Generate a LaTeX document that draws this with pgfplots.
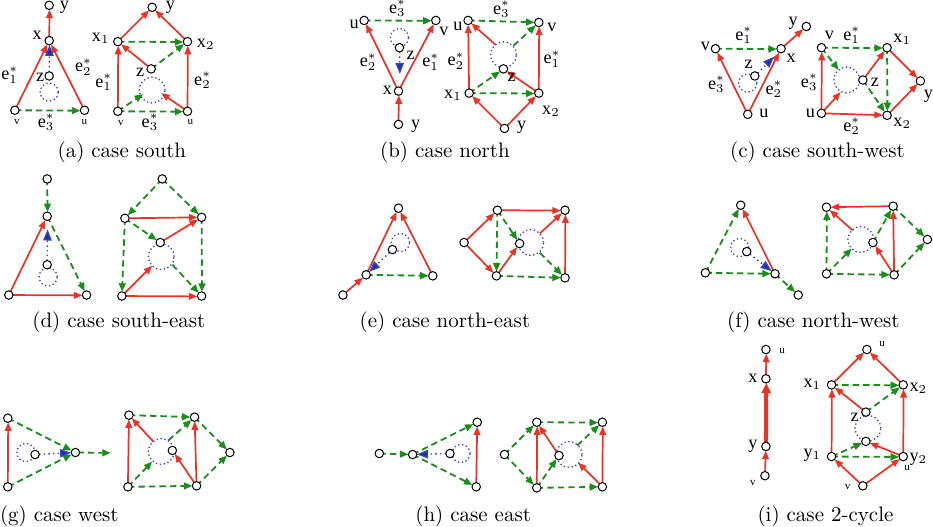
\documentclass[border=0pt]{standalone}
\usepackage{fontspec}
\usepackage{pgfplots}
\pgfplotsset{compat=1.18}
\usetikzlibrary{arrows.meta}
\newfontfamily\tms{Liberation Serif}
\definecolor{myred}{RGB}{232,52,38}
\definecolor{mygreen}{RGB}{28,140,28}
\definecolor{myblue}{RGB}{50,70,190}
\definecolor{mydblue}{RGB}{35,45,160}
\pgfplotsset{
 re/.style={draw=myred, line width=0.85pt, -{Triangle[length=4.2pt,width=3.3pt]}, shorten >=2.1pt, mark=none},
 reh/.style={re, shorten >=0pt},
 ge/.style={draw=mygreen, line width=0.9pt, dash pattern=on 3.2pt off 2pt, -{Triangle[length=4.2pt,width=3.4pt]}, shorten >=2.1pt, mark=none},
 geh/.style={ge, shorten >=0pt},
 be/.style={draw=myblue, line width=0.7pt, dash pattern=on 0.7pt off 1.6pt, -{Triangle[length=5.5pt,width=4.2pt,fill=mydblue]}, shorten >=2.1pt, shorten <=2pt, mark=none},
 beh/.style={be, shorten >=0pt},
}
\tikzset{mylb/.style={font=\tms\fontsize{9}{10}\selectfont, inner sep=0pt},
 mytl/.style={font=\tms\fontsize{5.5}{6}\selectfont, inner sep=0pt},
 mycap/.style={font=\fontsize{10.4}{12}\selectfont, inner sep=0pt}}
\newcommand{\E}[5]{\addplot[#1] coordinates {(#2,#3) (#4,#5)};}
\newcommand{\es}[1]{e${}^{*}_{#1}$}
\newcommand{\xs}[2]{#1${}_{#2}$}
\begin{document}
\begin{tikzpicture}
\begin{axis}[scale only axis, width=466.5pt, height=266.5pt, xmin=-0.5, xmax=932.5, ymin=-0.5, ymax=532.5, y dir=reverse, hide axis, clip=false]
% ---------- (a)
\E{re}{18}{115}{52}{46}
\E{re}{87}{115}{52}{46}
\E{re}{52}{46}{52.4}{11}
\E{ge}{18}{115}{87}{115.4}
\E{be}{52}{81}{52.4}{46}
\E{re}{120}{47}{154}{13}
\E{re}{189}{47}{154}{13}
\E{re}{120}{116}{120.4}{47}
\E{re}{189}{116}{189.4}{47}
\E{re}{153}{74}{120}{47}
\E{ge}{120}{47}{189}{47.4}
\E{ge}{120}{116}{189}{116.4}
\E{geh}{120}{116}{145}{99}
\E{reh}{189}{116}{163}{98}
\E{ge}{153}{74}{189}{47}
% ---------- (b)
\E{re}{398}{96}{364}{26}
\E{re}{398}{96}{435}{26}
\E{re}{398}{129}{398.4}{96}
\E{ge}{364}{26}{435}{26.4}
\E{beh}{399}{53}{399.4}{79}
\E{re}{468}{98}{467}{26}
\E{re}{537}{98}{537.4}{28}
\E{re}{503}{133}{468}{98}
\E{re}{503}{133}{537}{98}
\E{re}{537}{98}{502}{74}
\E{ge}{468}{98}{537}{98.4}
\E{ge}{467}{26}{537}{28}
\E{ge}{468}{98}{502}{74}
\E{ge}{512}{51}{537}{28}
\E{re}{494}{50}{467}{26}
% ---------- (c)
\E{re}{744}{119}{712}{54}
\E{re}{744}{119}{777}{54}
\E{re}{777}{54}{802}{32}
\E{ge}{712}{54}{777}{54.4}
\E{beh}{751}{81}{770}{62}
\E{re}{817}{118}{817.4}{53}
\E{re}{817}{118}{882}{120}
\E{reh}{817}{118}{836}{97}
\E{re}{858}{85}{882}{53}
\E{re}{882}{53}{915}{86}
\E{re}{882}{120}{915}{86}
\E{ge}{817}{53}{882}{53.4}
\E{ge}{882}{53}{882.4}{120}
\E{geh}{817}{53}{834}{75}
\E{ge}{858}{85}{882}{120}
% ---------- (d)
\E{re}{12}{298}{50}{220}
\E{re}{12}{298}{89}{298.4}
\E{ge}{50}{183}{50.4}{220}
\E{ge}{50}{220}{89}{298}
\E{beh}{50}{268}{50.4}{233}
\E{ge}{164}{183}{127}{222}
\E{ge}{164}{183}{203}{221}
\E{re}{127}{222}{203}{221}
\E{re}{162}{246}{203}{221}
\E{re}{124}{299}{203}{299.4}
\E{reh}{124}{299}{154}{269}
\E{ge}{127}{222}{124}{299}
\E{ge}{203}{221}{203.4}{299}
\E{ge}{127}{222}{162}{246}
\E{ge}{174}{268}{203}{299}
% ---------- (e)
\E{re}{366}{278}{398}{212}
\E{re}{432}{279}{398}{212}
\E{re}{343}{298}{366}{278}
\E{ge}{366}{278}{432}{279}
\E{be}{392}{253}{366}{278}
\E{re}{463}{246}{496}{214}
\E{re}{463}{246}{495}{279}
\E{re}{496}{214}{563}{214.4}
\E{re}{495}{279}{518}{247}
\E{re}{538}{237}{563}{214}
\E{re}{563}{281}{563.4}{214}
\E{ge}{496}{214}{495}{279}
\E{ge}{495}{279}{563}{281}
\E{ge}{496}{214}{518}{247}
\E{ge}{538}{256}{563}{281}
% ---------- (f)
\E{ge}{702}{276}{737}{209}
\E{re}{771}{277}{737}{209}
\E{ge}{702}{276}{771}{277}
\E{ge}{771}{277}{794}{298}
\E{be}{743}{255}{771}{277}
\E{re}{888}{210}{822}{211}
\E{re}{848}{234}{822}{211}
\E{re}{889}{278}{888}{210}
\E{re}{889}{278}{868}{246}
\E{ge}{822}{277}{822.4}{211}
\E{ge}{822}{277}{889}{278}
\E{geh}{822}{277}{847}{252}
\E{ge}{868}{246}{888}{210}
\E{ge}{888}{210}{922}{243}
\E{ge}{889}{278}{922}{243}
% ---------- (g)
\E{re}{11}{488}{11.4}{420}
\E{ge}{11}{420}{78}{454}
\E{ge}{11}{488}{78}{454}
\E{be}{38}{456}{78}{454}
\E{geh}{80}{454}{113}{454.4}
\E{re}{130}{488}{131}{417}
\E{re}{198}{487}{196}{419}
\E{re}{155}{443}{131}{417}
\E{re}{198}{487}{174}{452}
\E{ge}{131}{417}{196}{419}
\E{ge}{130}{488}{198}{487}
\E{ge}{196}{419}{231}{454}
\E{ge}{198}{487}{231}{454}
\E{geh}{130}{488}{154}{463}
\E{ge}{170}{442}{196}{419}
% ---------- (h)
\E{ge}{379}{455}{412}{456}
\E{ge}{412}{456}{476}{424}
\E{ge}{412}{456}{475}{488}
\E{re}{475}{488}{476}{424}
\E{be}{449}{455}{412}{456}
\E{ge}{503}{456}{535}{424}
\E{ge}{503}{456}{535}{489}
\E{re}{535}{489}{535.4}{424}
\E{re}{600}{488}{600.4}{424}
\E{re}{557}{457}{535}{424}
\E{reh}{600}{488}{576}{464}
\E{ge}{535}{424}{600}{424.4}
\E{ge}{535}{489}{600}{488}
\E{ge}{535}{489}{557}{457}
\E{ge}{575}{447}{600}{424}
% ---------- (i)
\E{re}{762}{381}{762.4}{352}
\addplot[draw=myred, line width=2pt, -{Triangle[length=5pt,width=4.5pt]}, shorten >=2.1pt, mark=none] coordinates {(762,448) (762.4,381)};
\E{re}{761}{477}{762}{448}
\E{re}{827}{387}{862}{352}
\E{re}{898}{387}{862}{352}
\E{re}{827}{458}{827.4}{387}
\E{re}{898}{458}{898.4}{387}
\E{re}{861}{414}{827}{387}
\E{re}{898}{458}{861}{443}
\E{ge}{827}{387}{898}{387.4}
\E{ge}{827}{458}{898}{458.4}
\E{ge}{861}{414}{898}{387}
\E{ge}{827}{458}{861}{443}
\E{re}{858}{487}{827}{458}
\E{re}{858}{487}{898}{458}
% ---------- dotted circles
\addplot[only marks, mark=o, mark size=4.5pt, mark options={draw=myblue, line width=0.65pt, dash pattern=on 0.65pt off 1.3pt}] coordinates {(52,97)(399,43)(744,88)(51,280)(400,246)(736,251)(29,454)(460,455)};
\addplot[only marks, mark=o, mark size=6.4pt, mark options={draw=myblue, line width=0.65pt, dash pattern=on 0.65pt off 1.3pt}] coordinates {(154,95)(502,60)(842,85)(163,260)(529,246)(856,243)(163,453)(567,456)(863,430)};
% ---------- nodes
\addplot[only marks, mark=*, mark size=2.1pt, mark options={fill=white, draw=black, line width=0.5pt}] coordinates {
(52,11)(52,46)(52,81)(18,115)(87,115)(154,13)(120,47)(189,47)(153,74)(120,116)(189,116)
(364,26)(435,26)(399,53)(398,96)(398,129)(467,26)(537,28)(502,74)(468,98)(537,98)(503,133)
(712,54)(777,54)(802,32)(751,81)(744,119)(817,53)(882,53)(858,85)(915,86)(817,118)(882,120)
(50,183)(50,220)(50,268)(12,298)(89,298)(164,183)(127,222)(203,221)(162,246)(124,299)(203,299)
(398,212)(392,253)(366,278)(432,279)(343,298)(463,246)(496,214)(563,214)(518,247)(495,279)(563,281)
(737,209)(743,255)(702,276)(771,277)(794,298)(822,211)(888,210)(922,243)(868,246)(822,277)(889,278)
(11,420)(11,488)(38,456)(78,454)(131,417)(196,419)(231,454)(174,452)(130,488)(198,487)
(379,455)(412,456)(449,455)(476,424)(475,488)(503,456)(535,424)(600,424)(557,457)(535,489)(600,488)
(762,352)(762,381)(762,448)(761,477)(862,352)(827,387)(898,387)(861,414)(861,443)(827,458)(898,458)(858,487)};
% ---------- labels (a)
\node[mylb] at (axis cs:67,13) {y};
\node[mylb] at (axis cs:40,41) {x};
\node[mylb] at (axis cs:43,82) {z};
\node[mytl] at (axis cs:20,127) {v};
\node[mytl] at (axis cs:87,127) {u};
\node[mylb] at (axis cs:13,80) {\es{1}};
\node[mylb] at (axis cs:86,72) {\es{2}};
\node[mylb] at (axis cs:49,127) {\es{3}};
\node[mylb] at (axis cs:172,13) {y};
\node[mylb] at (axis cs:103,44) {\xs{x}{1}};
\node[mylb] at (axis cs:207,50) {\xs{x}{2}};
\node[mylb] at (axis cs:142,77) {z};
\node[mytl] at (axis cs:123,128) {v};
\node[mytl] at (axis cs:192,127) {u};
\node[mylb] at (axis cs:106,87) {\es{1}};
\node[mylb] at (axis cs:204,85) {\es{2}};
\node[mylb] at (axis cs:152,127) {\es{3}};
% (b)
\node[mylb] at (axis cs:354,30) {u};
\node[mylb] at (axis cs:443,37) {v};
\node[mylb] at (axis cs:410,61) {z};
\node[mylb] at (axis cs:387,95) {x};
\node[mylb] at (axis cs:415,131) {y};
\node[mylb] at (axis cs:397,14) {\es{3}};
\node[mylb] at (axis cs:368,67) {\es{2}};
\node[mylb] at (axis cs:430,67) {\es{1}};
\node[mylb] at (axis cs:457,32) {u};
\node[mylb] at (axis cs:550,33) {v};
\node[mylb] at (axis cs:510,82) {z};
\node[mylb] at (axis cs:452,100) {\xs{x}{1}};
\node[mylb] at (axis cs:549,116) {\xs{x}{2}};
\node[mylb] at (axis cs:520,132) {y};
\node[mylb] at (axis cs:500,15) {\es{3}};
\node[mylb] at (axis cs:455,66) {\es{2}};
\node[mylb] at (axis cs:550,64) {\es{1}};
% (c)
\node[mylb] at (axis cs:702,52) {v};
\node[mylb] at (axis cs:787,64) {x};
\node[mylb] at (axis cs:789,29) {y};
\node[mylb] at (axis cs:745,69) {z};
\node[mylb] at (axis cs:760,118) {u};
\node[mylb] at (axis cs:740,41) {\es{1}};
\node[mylb] at (axis cs:713,89) {\es{3}};
\node[mylb] at (axis cs:770,94) {\es{2}};
\node[mylb] at (axis cs:825,41) {v};
\node[mylb] at (axis cs:897,45) {\xs{x}{1}};
\node[mylb] at (axis cs:870,87) {z};
\node[mylb] at (axis cs:923,101) {y};
\node[mylb] at (axis cs:806,118) {u};
\node[mylb] at (axis cs:897,128) {\xs{x}{2}};
\node[mylb] at (axis cs:847,41) {\es{1}};
\node[mylb] at (axis cs:805,87) {\es{3}};
\node[mylb] at (axis cs:847,131) {\es{2}};
% (i)
\node[mytl] at (axis cs:778,353) {u};
\node[mylb] at (axis cs:749,381) {x};
\node[mylb] at (axis cs:749,448) {y};
\node[mytl] at (axis cs:749,484) {v};
\node[mytl] at (axis cs:877,347) {u};
\node[mylb] at (axis cs:808,386) {\xs{x}{1}};
\node[mylb] at (axis cs:913,390) {\xs{x}{2}};
\node[mylb] at (axis cs:850,419) {z};
\node[mylb] at (axis cs:808,457) {\xs{y}{1}};
\node[mylb] at (axis cs:913,461) {\xs{y}{2}};
\node[mytl] at (axis cs:902,469) {u};
\node[mytl] at (axis cs:843,488) {v};
% captions
\node[mycap] at (axis cs:124,157) {(a) case south};
\node[mycap] at (axis cs:444,157) {(b) case north};
\node[mycap] at (axis cs:813,157) {(c) case south-west};
\node[mycap] at (axis cs:121,325) {(d) case south-east};
\node[mycap] at (axis cs:444,325) {(e) case north-east};
\node[mycap] at (axis cs:809,325) {(f) case north-west};
\node[mycap] at (axis cs:62,517) {(g) case west};
\node[mycap] at (axis cs:472,517) {(h) case east};
\node[mycap] at (axis cs:821,517) {(i) case 2-cycle};
\end{axis}
\end{tikzpicture}
\end{document}
